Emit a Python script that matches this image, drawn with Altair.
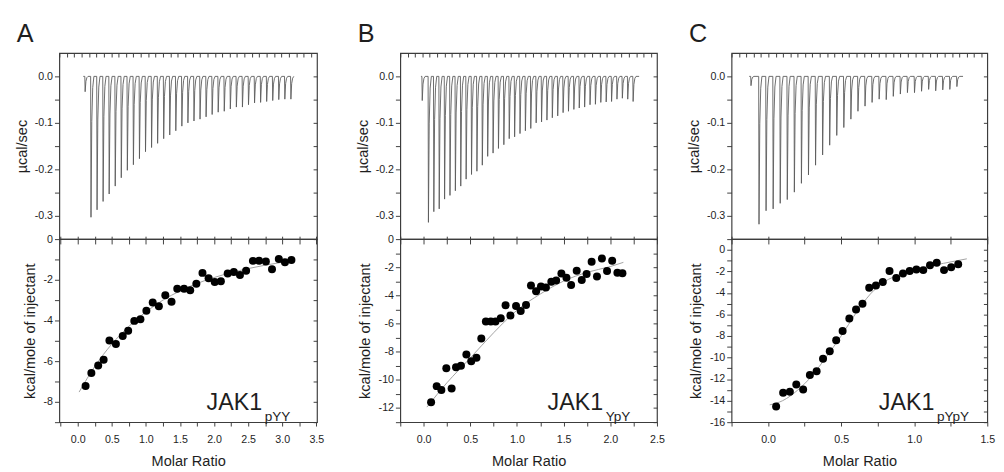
import altair as alt
import pandas as pd

FONT = "Liberation Sans"
INK = "#1e1e1e"
FRAME = "#3c3c3c"
TRACE = "#5a5a5a"
FIT = "#a0a0a0"

# ---------------- panel texts ----------------
panel_letters = ["A", "B", "C"]
panel_names = ["JAK1", "JAK1", "JAK1"]
panel_subs = ["pYY", "YpY", "pYpY"]

# ---------------- raw thermograms (µcal/sec) ----------------
time_domain = [0, 348]
time_ticks = list(range(0, 350, 10))

a_trace_span = [32.3, 316.6]
a_first_inj = [34.4, -0.033]
a_big_span = [42.3, 312.3]
a_depths = [-0.303, -0.287, -0.269, -0.253, -0.236, -0.218, -0.202, -0.190, -0.177, -0.162,
            -0.153, -0.144, -0.134, -0.126, -0.117, -0.107, -0.100, -0.096, -0.092, -0.087,
            -0.082, -0.077, -0.075, -0.070, -0.066, -0.066, -0.061, -0.057, -0.056, -0.054,
            -0.052, -0.050, -0.049, -0.049]

b_trace_span = [28.0, 323.8]
b_first_inj = [29.3, -0.052]
b_big_span = [37.7, 315.2]
b_depths = [-0.314, -0.291, -0.285, -0.264, -0.256, -0.246, -0.236, -0.221, -0.211, -0.204,
            -0.191, -0.172, -0.165, -0.155, -0.147, -0.134, -0.130, -0.123, -0.117, -0.112,
            -0.100, -0.098, -0.094, -0.089, -0.085, -0.078, -0.075, -0.071, -0.068, -0.066,
            -0.061, -0.060, -0.056, -0.055, -0.054, -0.049, -0.047, -0.049, -0.054]

c_trace_span = [24.0, 315.0]
c_first_inj = [26.0, -0.020]
c_big_span = [36.9, 306.2]
c_depths = [-0.318, -0.289, -0.285, -0.273, -0.265, -0.249, -0.230, -0.212, -0.191, -0.169,
            -0.148, -0.127, -0.110, -0.092, -0.075, -0.064, -0.056, -0.049, -0.050, -0.043,
            -0.038, -0.035, -0.035, -0.032, -0.028, -0.031, -0.029, -0.028, -0.022]

# ---------------- integrated heats (kcal/mole of injectant) ----------------
a_ratio = [0.115, 0.20, 0.30, 0.38, 0.465, 0.56, 0.66, 0.74, 0.83, 0.92, 1.007, 1.10, 1.19,
           1.285, 1.376, 1.46, 1.56, 1.65, 1.74, 1.83, 1.92, 2.01, 2.10, 2.20, 2.29, 2.38,
           2.47, 2.57, 2.66, 2.76, 2.85, 2.95, 3.04, 3.135]
a_heat = [-7.22, -6.58, -6.21, -5.93, -4.98, -5.16, -4.76, -4.50, -4.02, -3.94, -3.52, -3.12,
          -3.30, -2.76, -3.08, -2.44, -2.44, -2.51, -2.19, -1.66, -1.92, -2.11, -2.07, -1.69,
          -1.62, -1.77, -1.56, -1.07, -1.06, -1.10, -1.48, -0.98, -1.14, -1.03]
a_fit_x = [0.02, 0.25, 0.5, 0.75, 1.0, 1.25, 1.5, 1.75, 2.0, 2.25, 2.5, 2.75, 3.0, 3.17]
a_fit_y = [-7.52, -6.26, -5.16, -4.29, -3.58, -3.0, -2.55, -2.18, -1.89, -1.65, -1.45, -1.28,
           -1.14, -1.05]

b_ratio = [0.08, 0.14, 0.19, 0.243, 0.30, 0.347, 0.40, 0.458, 0.51, 0.566, 0.618, 0.667, 0.72,
           0.77, 0.826, 0.878, 0.93, 0.99, 1.04, 1.097, 1.15, 1.205, 1.257, 1.31, 1.368, 1.42,
           1.476, 1.53, 1.58, 1.64, 1.694, 1.746, 1.80, 1.857, 1.91, 1.965, 2.02, 2.076, 2.13]
b_heat = [-11.58, -10.44, -10.71, -9.17, -10.6, -9.1, -9.0, -8.2, -8.67, -8.42, -7.06, -5.85,
          -5.85, -5.85, -5.62, -4.7, -5.42, -4.75, -5.11, -4.68, -3.3, -3.71, -3.37, -3.44,
          -3.03, -2.94, -2.45, -2.75, -3.26, -2.25, -2.91, -2.48, -1.6, -2.65, -1.38, -2.27,
          -1.54, -2.39, -2.43]
b_fit_x = [0.035, 0.25, 0.5, 0.75, 1.0, 1.25, 1.5, 1.75, 2.0, 2.14]
b_fit_y = [-11.93, -10.2, -8.44, -6.65, -5.05, -3.9, -2.98, -2.36, -1.95, -1.65]

c_ratio = [0.055, 0.103, 0.149, 0.193, 0.240, 0.286, 0.332, 0.376, 0.422, 0.466, 0.510, 0.556,
           0.602, 0.646, 0.692, 0.738, 0.785, 0.831, 0.877, 0.923, 0.969, 1.015, 1.062, 1.108,
           1.154, 1.204, 1.253, 1.301]
c_heat = [-14.54, -13.26, -13.17, -12.49, -12.96, -11.62, -11.26, -10.1, -9.42, -8.40, -7.54,
          -6.38, -5.54, -5.01, -3.52, -3.31, -2.98, -1.97, -2.62, -2.20, -1.97, -1.82, -1.88,
          -1.43, -1.19, -1.88, -1.61, -1.34]
c_fit_x = [0.011, 0.1, 0.2, 0.3, 0.4, 0.5, 0.6, 0.7, 0.8, 0.9, 1.0, 1.1, 1.2, 1.36]
c_fit_y = [-14.39, -14.0, -13.05, -11.7, -9.9, -7.99, -5.9, -4.1, -2.92, -2.32, -1.88, -1.52,
           -1.25, -0.83]

# axis ranges
a_xdom, b_xdom, c_xdom = [-0.27, 3.51], [-0.25, 2.5], [-0.25, 1.5]
a_ydom, b_ydom, c_ydom = [-9, 0], [-13, 0], [-16, 1]
top_ydom = [-0.35, 0.05]
top_yticks = [0.0, -0.05, -0.1, -0.15, -0.2, -0.25, -0.3]

TOP_Y_LABEL = ("abs(datum.value) < 1e-6 ? '0.0' : (abs(datum.value*10 - round(datum.value*10)) < 1e-6"
               " ? '-' + format(abs(datum.value), '.1f') : '')")
BOT_Y_LABEL = ("abs(datum.value) < 1e-6 ? '0' : (abs(datum.value % 2) < 1e-6"
               " ? (datum.value < 0 ? '-' : '') + format(abs(datum.value), 'd') : '')")
BOT_X_LABEL = ("datum.value > -1e-6 && abs(datum.value*2 - round(datum.value*2)) < 1e-6"
               " ? format(datum.value, '.1f') : ''")


def thermogram_df(span, first_inj, big_span, depths):
    n = len(depths)
    step = (big_span[1] - big_span[0]) / (n - 1)
    times = [first_inj[0]] + [big_span[0] + k * step for k in range(n)]
    ds = [first_inj[1]] + depths
    pts = [(span[0], 0.0)]
    for t0, d in zip(times, ds):
        pts += [(t0, 0.0), (t0 + 0.45, d), (t0 + 1.5, 0.32 * d), (t0 + 2.8, 0.08 * d), (t0 + 4.4, 0.0)]
    pts.append((span[1], 0.0))
    return pd.DataFrame({"i": list(range(len(pts))), "t": [p[0] for p in pts], "p": [p[1] for p in pts]})


def top_panel(df, letter, width):
    xs = alt.Scale(domain=time_domain, nice=False, zero=False)
    ys = alt.Scale(domain=top_ydom, nice=False, zero=False)
    trace = alt.Chart(df).mark_line(color=TRACE, strokeWidth=0.9).encode(
        x=alt.X("t:Q", scale=xs, axis=alt.Axis(orient="top", values=time_ticks, labels=False,
                                                tickSize=4, offset=-4, title=None)),
        y=alt.Y("p:Q", scale=ys, axis=alt.Axis(orient="left", values=top_yticks, labelExpr=TOP_Y_LABEL,
                                                tickSize=5, labelPadding=2, title="µcal/sec",
                                                titlePadding=5, labelOverlap=False)),
        order="i:Q",
    )
    mirror = alt.Chart(df).mark_line(strokeOpacity=0).encode(
        x=alt.X("t:Q", scale=xs, axis=None),
        y=alt.Y("p:Q", scale=ys, axis=alt.Axis(orient="right", values=top_yticks, labels=False,
                                                tickSize=4, offset=-4, title=None)),
        order="i:Q",
    )
    return alt.layer(trace, mirror).resolve_axis(x="independent", y="independent").properties(
        width=width, height=192,
        title=alt.TitleParams(letter, anchor="start", frame="group", dx=-44, offset=-15,
                              baseline="alphabetic", fontSize=26, fontWeight="normal",
                              font=FONT, color=INK),
    )


def bottom_panel(ratio, heat, fx, fy, xdom, ydom, name, sub, width):
    xticks = [k * 0.25 for k in range(-1, 20) if xdom[0] - 1e-9 <= k * 0.25 <= xdom[1] + 1e-9]
    yticks = [v for v in range(int(ydom[0]), int(ydom[1]) + 1)]
    xs = alt.Scale(domain=xdom, nice=False, zero=False)
    ys = alt.Scale(domain=ydom, nice=False, zero=False)
    fit = alt.Chart(pd.DataFrame({"r": fx, "h": fy})).mark_line(
        color=FIT, strokeWidth=1, interpolate="monotone").encode(
        x=alt.X("r:Q", scale=xs, axis=alt.Axis(orient="bottom", values=xticks, labelExpr=BOT_X_LABEL,
                                                tickSize=4, labelPadding=8, labelFlush=False,
                                                labelOverlap=False, title="Molar Ratio", titlePadding=10)),
        y=alt.Y("h:Q", scale=ys, axis=alt.Axis(orient="left", values=yticks, labelExpr=BOT_Y_LABEL,
                                                tickSize=5, labelPadding=2, labelOverlap=False,
                                                title="kcal/mole of injectant", titlePadding=6)),
    )
    dots = alt.Chart(pd.DataFrame({"r": ratio, "h": heat})).mark_circle(
        color="#000000", opacity=1, size=68).encode(
        x=alt.X("r:Q", scale=xs, axis=alt.Axis(orient="top", values=xticks, labels=False,
                                                tickSize=8, offset=-5, title=None)),
        y=alt.Y("h:Q", scale=ys, axis=alt.Axis(orient="right", values=yticks, labels=False,
                                                tickSize=4, offset=-4, title=None)),
    )
    lab = alt.Chart(pd.DataFrame({"s": [name]})).mark_text(
        align="left", baseline="alphabetic", fontSize=24, font=FONT, color=INK).encode(
        text="s:N", x=alt.value(152), y=alt.value(176))
    subl = alt.Chart(pd.DataFrame({"s": [sub]})).mark_text(
        align="left", baseline="alphabetic", fontSize=14, font=FONT, color=INK).encode(
        text="s:N", x=alt.value(212), y=alt.value(188))
    return alt.layer(fit, dots, lab, subl).resolve_axis(x="independent", y="independent").properties(
        width=width, height=189)


colA = alt.vconcat(
    top_panel(thermogram_df(a_trace_span, a_first_inj, a_big_span, a_depths), panel_letters[0], 266),
    bottom_panel(a_ratio, a_heat, a_fit_x, a_fit_y, a_xdom, a_ydom, panel_names[0], panel_subs[0], 266),
    spacing=0, bounds="flush")
colB = alt.vconcat(
    top_panel(thermogram_df(b_trace_span, b_first_inj, b_big_span, b_depths), panel_letters[1], 265),
    bottom_panel(b_ratio, b_heat, b_fit_x, b_fit_y, b_xdom, b_ydom, panel_names[1], panel_subs[1], 265),
    spacing=0, bounds="flush")
colC = alt.vconcat(
    top_panel(thermogram_df(c_trace_span, c_first_inj, c_big_span, c_depths), panel_letters[2], 264),
    bottom_panel(c_ratio, c_heat, c_fit_x, c_fit_y, c_xdom, c_ydom, panel_names[2], panel_subs[2], 264),
    spacing=0, bounds="flush")

chart = alt.hconcat(
    alt.hconcat(colA, colB, spacing=31),
    colC, spacing=21,
).properties(
    padding={"left": 6, "top": 5, "right": 0, "bottom": 0},
    background="white",
).configure_view(
    stroke=FRAME, strokeWidth=1.2,
).configure_axis(
    labelFont=FONT, titleFont=FONT, labelFontSize=11, titleFontSize=15,
    labelColor=INK, titleColor=INK, tickColor=FRAME, tickWidth=1,
    grid=False, domain=False, titleFontWeight="normal",
)

chart.save("out.html", embed_options={"renderer": "svg", "actions": False})
